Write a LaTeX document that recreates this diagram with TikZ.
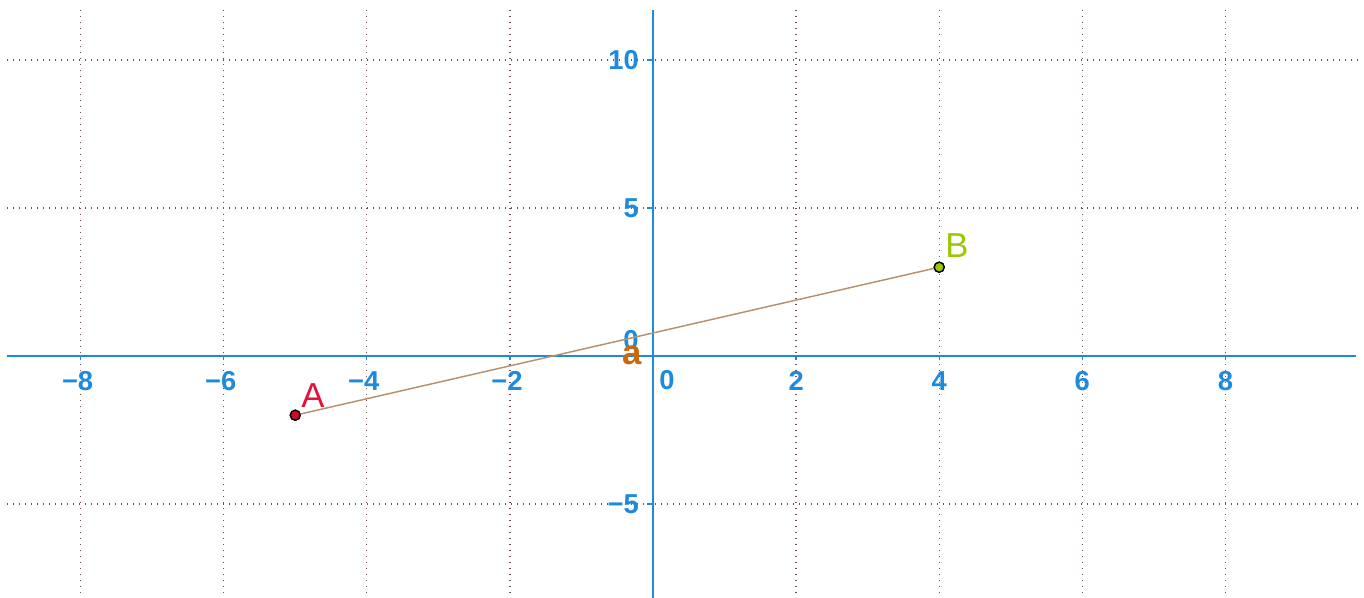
\documentclass[tikz,border=0pt]{standalone}
\usepackage{fontspec}
\setmainfont{Liberation Sans}
\definecolor{axisblue}{RGB}{28,138,222}
\definecolor{gridc}{RGB}{110,80,80}
\definecolor{segc}{RGB}{185,145,105}
\definecolor{Ared}{RGB}{226,18,58}
\definecolor{Afill}{RGB}{210,10,40}
\definecolor{Bgreen}{RGB}{153,200,0}
\definecolor{aorange}{RGB}{204,104,10}
\begin{document}
\begin{tikzpicture}[x=0.75pt,y=-0.75pt,
  gridline/.style={gridc, line width=1pt, dash pattern=on 1pt off 3.5pt},
  axisline/.style={axisblue, line width=2pt},
  tickline/.style={axisblue, line width=1pt},
  ticklabel/.style={text=axisblue, font=\fontsize{20.5}{20.5}\selectfont\bfseries, inner sep=0pt},
  ptA/.style={circle, draw=black, line width=1pt, fill=Afill, minimum size=7.5pt, inner sep=0pt},
  ptB/.style={circle, draw=black, line width=1pt, fill=Bgreen, minimum size=7.5pt, inner sep=0pt},
  ptlabel/.style={font=\fontsize{26}{26}\selectfont, inner sep=0pt},
  seg/.style={segc, line width=1.1pt}]
\useasboundingbox (0,0) rectangle (1364,598);
\fill[white] (0,0) rectangle (1364,598);
% grid
\foreach \i in {-8,-6,-4,-2,2,4,6,8}{
  \coordinate (gt\i) at ({653+\i*71.55},10);
  \coordinate (gb\i) at ({653+\i*71.55},598);
  \draw[gridline] (gt\i) -- (gb\i);
}
\foreach \j in {-5,5,10}{
  \coordinate (gl\j) at (7,{356-\j*29.6});
  \coordinate (gr\j) at (1360,{356-\j*29.6});
  \draw[gridline] (gl\j) -- (gr\j);
}
% axes
\coordinate (xl) at (7,356);
\coordinate (xr) at (1356,356);
\coordinate (yt) at (653,10);
\coordinate (yb) at (653,598);
\draw[axisline] (xl) -- (xr);
\draw[axisline] (yt) -- (yb);
% ticks
\foreach \i in {-8,-6,-4,-2,2,4,6,8}{
  \coordinate (xt\i) at ({653+\i*71.55},356);
  \coordinate (xtb\i) at ({653+\i*71.55},360);
  \draw[tickline] (xt\i) -- (xtb\i);
}
\foreach \j in {-5,5,10}{
  \coordinate (yt\j) at (647,{356-\j*29.6});
  \coordinate (ytr\j) at (653,{356-\j*29.6});
  \draw[tickline] (yt\j) -- (ytr\j);
}
% x labels
\node[ticklabel] (lxm8) at ({653-8*71.55-3},381) {−8};
\node[ticklabel] (lxm6) at ({653-6*71.55-3},381) {−6};
\node[ticklabel] (lxm4) at ({653-4*71.55-3},381) {−4};
\node[ticklabel] (lxm2) at ({653-2*71.55-3},381) {−2};
\node[ticklabel] (lx0) at (667,380) {0};
\node[ticklabel] (lx2) at ({653+2*71.55},381) {2};
\node[ticklabel] (lx4) at ({653+4*71.55},381) {4};
\node[ticklabel] (lx6) at ({653+6*71.55},381) {6};
\node[ticklabel] (lx8) at ({653+8*71.55},381) {8};
% y labels
\node[ticklabel, anchor=east] (ly10) at (639,{356-10*29.6}) {10};
\node[ticklabel, anchor=east] (ly5) at (639,{356-5*29.6}) {5};
\node[ticklabel, anchor=east] (lym5) at (639,{356+5*29.6}) {−5};
\node[ticklabel] (ly0) at (631,340) {0};
% segment and points
\node[ptA] (A) at ({653-5*71.55},{356+2*29.6}) {};
\node[ptB] (B) at ({653+4*71.55},{356-3*29.6}) {};
\draw[seg] (A.center) -- (B.center);
\node[ptA] at (A) {};
\node[ptB] at (B) {};
\node[ptlabel, text=Ared] (Alabel) at (313,396) {A};
\node[ptlabel, text=Bgreen] (Blabel) at (957,246) {B};
\node[ptlabel, text=aorange, font=\fontsize{26}{26}\selectfont\bfseries] (alabel) at (632,355) {a};
\end{tikzpicture}
\end{document}
